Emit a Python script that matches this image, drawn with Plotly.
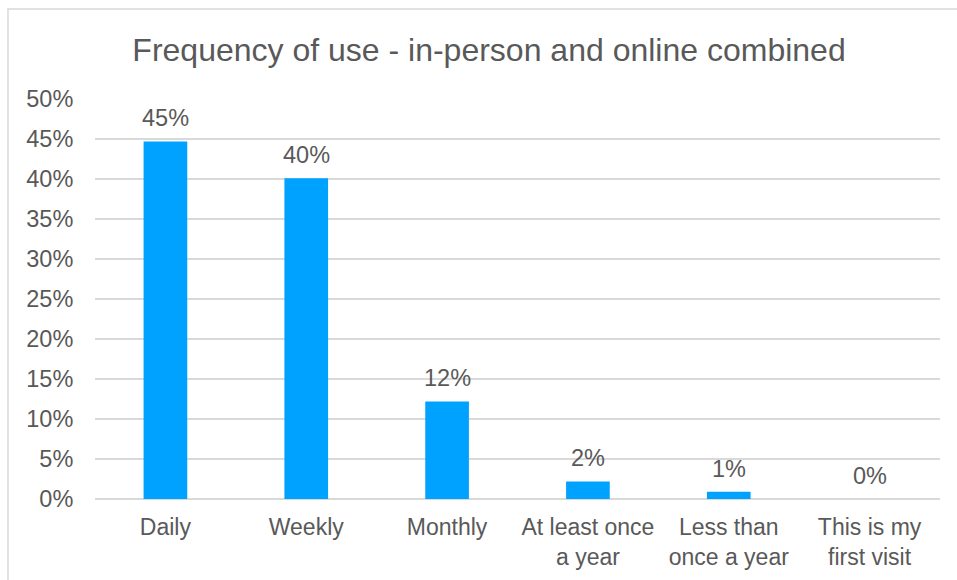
import plotly.graph_objects as go

# Survey answers: how often respondents use the service
categories = ["Daily", "Weekly", "Monthly", "At least once<br>a year",
              "Less than<br>once a year", "This is my<br>first visit"]
shares = [0.447, 0.401, 0.122, 0.022, 0.009, 0.0]
tick_values = [0, 0.05, 0.10, 0.15, 0.20, 0.25, 0.30, 0.35, 0.40, 0.45, 0.50]
tick_labels = ["0%", "5%", "10%", "15%", "20%", "25%", "30%", "35%", "40%", "45%", "50%"]

TEXT = "#595959"
GRID = "#D9D9D9"
BAR = "#00A2FF"
FONT = "Liberation Sans, Arial, sans-serif"
LABEL_SIZE = 23.5

fig = go.Figure(go.Bar(
    x=categories,
    y=shares,
    marker=dict(color=BAR, line=dict(width=0)),
    hoverinfo="skip",
))

# Value labels above each bar, rounded to whole percent
for cat, val in zip(categories, shares):
    fig.add_annotation(
        x=cat, y=val, xref="x", yref="y",
        text=f"{round(val * 100):.0f}%",
        showarrow=False, yanchor="bottom", yshift=8,
        font=dict(family=FONT, size=LABEL_SIZE, color=TEXT),
    )

# Light frame around the chart area
fig.add_shape(
    type="rect", xref="paper", yref="paper",
    x0=-0.103, x1=1.3, y0=-0.5, y1=1.225,
    line=dict(color=GRID, width=1.5), fillcolor="rgba(0,0,0,0)",
    layer="below",
)

fig.update_layout(
    width=957, height=580,
    margin=dict(l=95, r=17, t=99, b=81, autoexpand=False),
    paper_bgcolor="white", plot_bgcolor="white",
    bargap=0.69,
    showlegend=False,
    title=dict(
        text="Frequency of use - in-person and online combined",
        x=0.511, xanchor="center", xref="container",
        y=1 - 50 / 580, yanchor="middle", yref="container",
        font=dict(family=FONT, size=32, color=TEXT),
    ),
    font=dict(family=FONT, color=TEXT),
    xaxis=dict(
        showgrid=False, zeroline=False, showline=False,
        ticks="outside", ticklen=7, tickcolor="rgba(0,0,0,0)",
        tickfont=dict(family=FONT, size=23, color=TEXT),
        automargin=False, fixedrange=True,
    ),
    yaxis=dict(
        range=[0, 0.5],
        tickvals=tick_values, ticktext=tick_labels,
        showgrid=True, gridcolor=GRID, gridwidth=1.5,
        zeroline=True, zerolinecolor=GRID, zerolinewidth=1.5,
        showline=False,
        ticks="outside", ticklen=16, tickcolor="rgba(0,0,0,0)",
        tickfont=dict(family=FONT, size=LABEL_SIZE, color=TEXT),
        automargin=False, fixedrange=True,
    ),
)

fig.write_html("out.html")
